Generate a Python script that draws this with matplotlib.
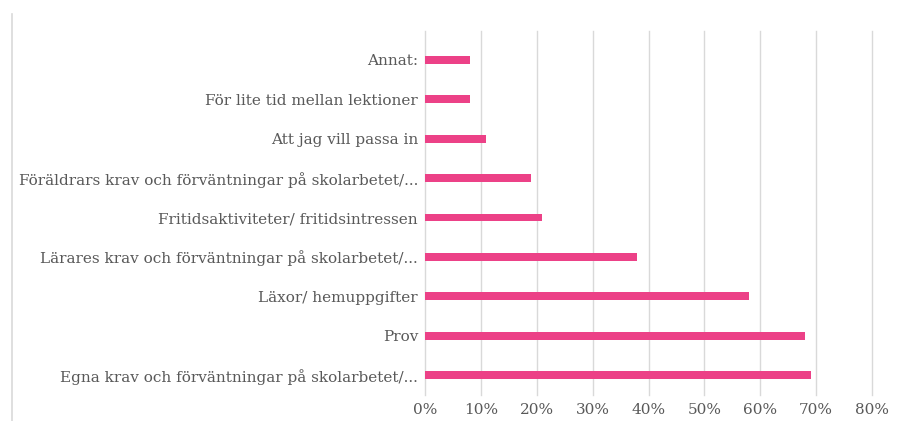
import numpy as np
import matplotlib.pyplot as plt
from matplotlib.lines import Line2D
from matplotlib.ticker import FuncFormatter

# kategorier, nedifrån och upp
kategorier = [
    "Egna krav och förväntningar på skolarbetet/...",
    "Prov",
    "Läxor/ hemuppgifter",
    "Lärares krav och förväntningar på skolarbetet/...",
    "Fritidsaktiviteter/ fritidsintressen",
    "Föräldrars krav och förväntningar på skolarbetet/...",
    "Att jag vill passa in",
    "För lite tid mellan lektioner",
    "Annat:",
]
andel = [0.69, 0.68, 0.58, 0.38, 0.21, 0.19, 0.11, 0.08, 0.08]
x_ticks = [0, 0.1, 0.2, 0.3, 0.4, 0.5, 0.6, 0.7, 0.8]

plt.rcParams['font.family'] = ['DejaVu Serif']
text_col = "#595959"

fig = plt.figure(figsize=(8.97, 4.21), dpi=100)
ax = fig.add_axes([425/897, 1 - 395/421, (872-425)/897, (395-31)/421])

y = np.arange(len(kategorier))
ax.barh(y, andel, height=0.2, color="#EC4187", zorder=3)

ax.set_xlim(0, 0.8)
ax.set_ylim(-0.5, 8.73)
ax.set_xticks(x_ticks)
ax.xaxis.set_major_formatter(FuncFormatter(lambda v, p: f"{v*100:.0f}%"))
ax.set_yticks(y)
ax.set_yticklabels(kategorier)
ax.grid(axis='x', color="#d9d9d9", linewidth=1, zorder=0)
for gl in ax.get_xgridlines():
    gl.set_clip_on(False)
for s in ax.spines.values():
    s.set_visible(False)
ax.tick_params(axis='both', length=0, labelsize=11, colors=text_col)
ax.tick_params(axis='y', pad=5)
ax.tick_params(axis='x', pad=6)

# ram-linje till vänster
fig.add_artist(Line2D([12/897, 12/897], [0, 1 - 14/421], color="#d9d9d9", linewidth=1.2))

fig.savefig("out.png", dpi=100)
